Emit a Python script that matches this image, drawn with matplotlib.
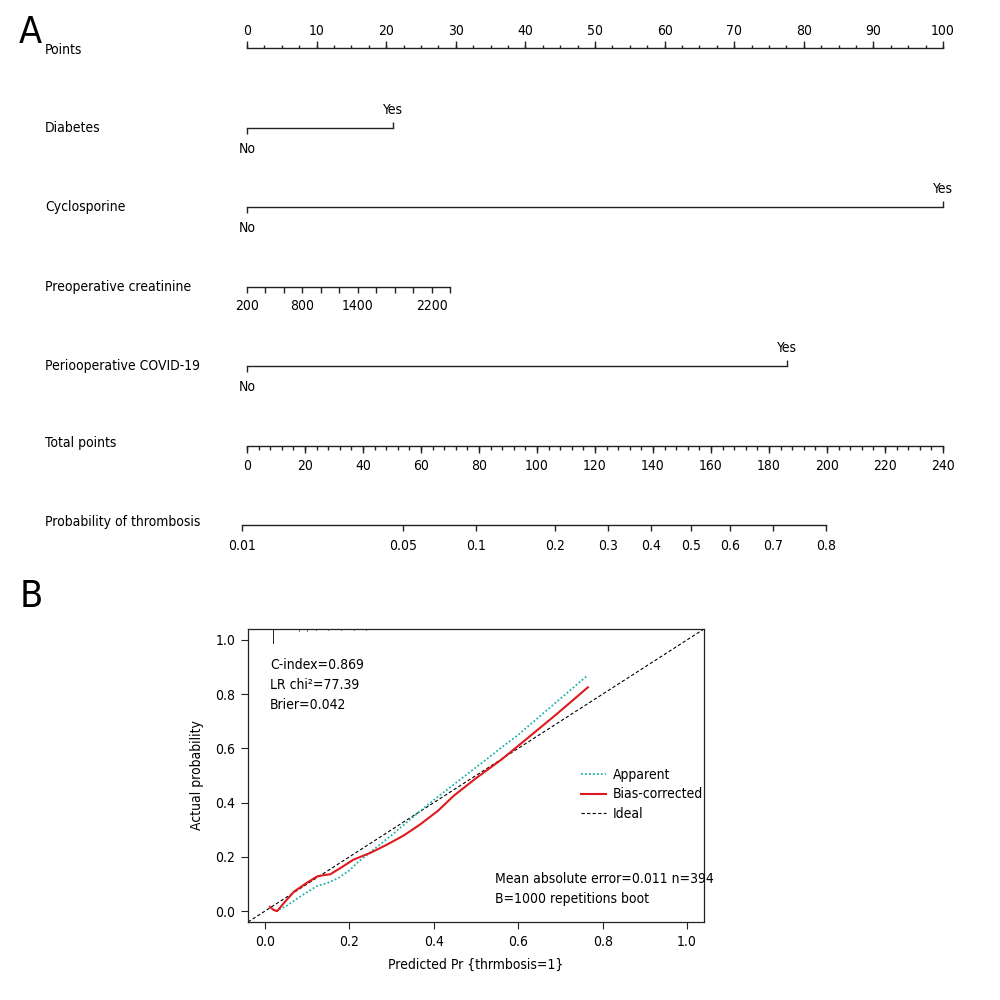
import numpy as np
import matplotlib
matplotlib.use("Agg")
import matplotlib.pyplot as plt
from matplotlib import font_manager
from matplotlib.transforms import blended_transform_factory

# the original uses a condensed face; pick the narrowest one we have
names = {f.name for f in font_manager.fontManager.ttflist}
cond_dejavu = any('DejaVuSansCondensed' in f.fname.replace('-', '') for f in font_manager.fontManager.ttflist)
if 'Liberation Sans Narrow' in names:
    plt.rcParams['font.family'] = ['Liberation Sans Narrow', 'DejaVu Sans']
    FS = 11
elif cond_dejavu:
    plt.rcParams['font.family'] = ['DejaVu Sans']
    plt.rcParams['font.stretch'] = 'condensed'
    FS = 10
else:
    plt.rcParams['font.family'] = ['DejaVu Sans']
    FS = 9
plt.rcParams['font.size'] = FS

# ---- nomogram data (panel A) ----
points_ticks = np.arange(0, 101, 10)
points_minor = np.arange(0, 100.1, 2.5)

diabetes_levels = ["No", "Yes"]
diabetes_pts = [0, 21]
cyclo_levels = ["No", "Yes"]
cyclo_pts = [0, 100]
covid_levels = ["No", "Yes"]
covid_pts = [0, 77.6]

creat_ticks = np.arange(200, 2401, 200)
creat_labels = [200, 800, 1400, 2200]
creat_pts_per_unit = 29.2 / 2200

total_ticks = np.arange(0, 241, 20)
total_minor = np.arange(0, 240.1, 4)

prob_ticks = [0.01, 0.05, 0.1, 0.2, 0.3, 0.4, 0.5, 0.6, 0.7, 0.8]
prob_labels = ["0.01", "0.05", "0.1", "0.2", "0.3", "0.4", "0.5", "0.6", "0.7", "0.8"]
lp_b0 = -4.541
lp_b1 = 0.02968

# ---- calibration data (panel B) ----
app_x = [0.025, 0.05, 0.08, 0.105, 0.124, 0.15, 0.175, 0.20, 0.22, 0.26, 0.30,
         0.364, 0.40, 0.45, 0.526, 0.557, 0.60, 0.68, 0.765]
app_y = [0.0, 0.018, 0.05, 0.075, 0.093, 0.105, 0.123, 0.15, 0.18, 0.23, 0.28,
         0.364, 0.41, 0.47, 0.561, 0.599, 0.65, 0.757, 0.87]
bc_x = [0.012, 0.02, 0.029, 0.045, 0.069, 0.10, 0.124, 0.14, 0.155, 0.18, 0.21,
        0.25, 0.289, 0.33, 0.368, 0.41, 0.447, 0.50, 0.557, 0.581, 0.62, 0.69, 0.765]
bc_y = [0.016, 0.005, 0.0, 0.03, 0.072, 0.105, 0.128, 0.133, 0.136, 0.16, 0.19,
        0.215, 0.245, 0.28, 0.32, 0.37, 0.425, 0.49, 0.555, 0.585, 0.635, 0.725, 0.825]
rug_x = [0.019, 0.08, 0.1, 0.12, 0.15, 0.18, 0.21, 0.24]
rug_h = [0.05, 0.006, 0.006, 0.005, 0.005, 0.005, 0.004, 0.004]

lc = '#222222'
lw = 1.0

fig = plt.figure(figsize=(10, 10), dpi=100)

# ================= Panel A =================
ax = fig.add_axes([0, 0.4, 1, 0.6])
ax.set_xlim(-247 / 6.96, (1000 - 247) / 6.96)
ax.set_ylim(600, 0)
ax.axis('off')
tr = blended_transform_factory(ax.transAxes, ax.transData)

rows = {"Points": 50, "Diabetes": 128, "Cyclosporine": 207,
        "Preoperative creatinine": 287, "Periooperative COVID-19": 366,
        "Total points": 443, "Probability of thrombosis": 522}
axis_y = {"Points": 48, "Diabetes": 128, "Cyclosporine": 207,
          "Preoperative creatinine": 287, "Periooperative COVID-19": 366,
          "Total points": 446, "Probability of thrombosis": 525}
for name, y in rows.items():
    ax.text(0.045, y, name, transform=tr, ha='left', va='center', fontsize=FS)

# points axis (ticks up, labels above)
y = axis_y["Points"]
ax.plot([0, 100], [y, y], color=lc, lw=lw)
ax.vlines(points_minor, y - 3.5, y, color=lc, lw=lw)
ax.vlines(points_ticks, y - 7, y, color=lc, lw=lw)
for t in points_ticks:
    ax.text(t, y - 17, f"{t}", ha='center', va='center', fontsize=FS)

# categorical rows
for name, levels, pts in [("Diabetes", diabetes_levels, diabetes_pts),
                          ("Cyclosporine", cyclo_levels, cyclo_pts),
                          ("Periooperative COVID-19", covid_levels, covid_pts)]:
    y = axis_y[name]
    ax.plot([pts[0], pts[1]], [y, y], color=lc, lw=lw)
    ax.vlines(pts[0], y, y + 6, color=lc, lw=lw)
    ax.vlines(pts[1], y - 6, y, color=lc, lw=lw)
    ax.text(pts[0], y + 21, levels[0], ha='center', va='center', fontsize=FS)
    ax.text(pts[1], y - 18, levels[1], ha='center', va='center', fontsize=FS)

# creatinine
y = axis_y["Preoperative creatinine"]
cpts = (creat_ticks - 200) * creat_pts_per_unit
ax.plot([cpts[0], cpts[-1]], [y, y], color=lc, lw=lw)
ax.vlines(cpts, y, y + 6, color=lc, lw=lw)
for c in creat_labels:
    ax.text((c - 200) * creat_pts_per_unit, y + 19, f"{c}", ha='center', va='center', fontsize=FS)

# total points
y = axis_y["Total points"]
tp_scale = 100 / 240
ax.plot([0, 240 * tp_scale], [y, y], color=lc, lw=lw)
ax.vlines(total_minor * tp_scale, y, y + 4, color=lc, lw=lw)
ax.vlines(total_ticks * tp_scale, y, y + 7, color=lc, lw=lw)
for t in total_ticks:
    ax.text(t * tp_scale, y + 20, f"{t}", ha='center', va='center', fontsize=FS)

# probability
y = axis_y["Probability of thrombosis"]
pr = np.array(prob_ticks)
pr_tp = (np.log(pr / (1 - pr)) - lp_b0) / lp_b1
pr_x = pr_tp * tp_scale
ax.plot([pr_x[0], pr_x[-1]], [y, y], color=lc, lw=lw)
ax.vlines(pr_x, y, y + 6, color=lc, lw=lw)
for xx, lab in zip(pr_x, prob_labels):
    ax.text(xx, y + 21, lab, ha='center', va='center', fontsize=FS)

fig.text(0.019, 0.967, "A", fontsize=27, ha='left', va='center')
fig.text(0.02, 0.403, "B", fontsize=27, ha='left', va='center')

# ================= Panel B =================
bx = fig.add_axes([0.248, 0.078, 0.456, 0.293])
bx.set_xlim(-0.04, 1.04)
bx.set_ylim(-0.04, 1.04)
bx.plot([-0.04, 1.04], [-0.04, 1.04], color='black', lw=0.8, ls=(0, (3, 2)), label='Ideal')
bx.plot(app_x, app_y, color='#20B2AA', lw=1.3, ls=(0, (1, 1.2)), label='Apparent')
bx.plot(bc_x, bc_y, color='#E0191E', lw=1.5, label='Bias-corrected')
for rx, rh in zip(rug_x, rug_h):
    bx.plot([rx, rx], [1.04, 1.04 - rh], color='#777777' if rh < 0.02 else lc, lw=0.7)

ticks = [0.0, 0.2, 0.4, 0.6, 0.8, 1.0]
bx.set_xticks(ticks)
bx.set_xticklabels([f"{t:.1f}" for t in ticks])
bx.set_yticks(ticks)
bx.set_yticklabels([f"{t:.1f}" for t in ticks])
bx.tick_params(direction='out', length=5, width=0.8, labelsize=FS, pad=4, color=lc)
for s in bx.spines.values():
    s.set_linewidth(0.9)
    s.set_color(lc)
bx.set_xlabel("Predicted Pr {thrmbosis=1}", fontsize=FS, labelpad=7)
bx.set_ylabel("Actual probability", fontsize=FS, labelpad=8)

handles, labels = bx.get_legend_handles_labels()
order = [1, 2, 0]
bx.legend([handles[i] for i in order], [labels[i] for i in order],
          loc='upper left', bbox_to_anchor=(0.73, 0.525), frameon=False,
          handlelength=1.8, handletextpad=0.5, borderaxespad=0, borderpad=0,
          labelspacing=0.38, fontsize=FS)

bx.text(0.048, 0.877, "C-index=0.869", transform=bx.transAxes, va='center', fontsize=FS)
bx.text(0.048, 0.809, "LR chi\u00b2=77.39", transform=bx.transAxes, va='center', fontsize=FS)
bx.text(0.048, 0.741, "Brier=0.042", transform=bx.transAxes, va='center', fontsize=FS)
bx.text(0.542, 0.147, "Mean absolute error=0.011 n=394", transform=bx.transAxes, va='center', fontsize=FS)
bx.text(0.542, 0.078, "B=1000 repetitions boot", transform=bx.transAxes, va='center', fontsize=FS)

fig.savefig("out.png", dpi=100)
